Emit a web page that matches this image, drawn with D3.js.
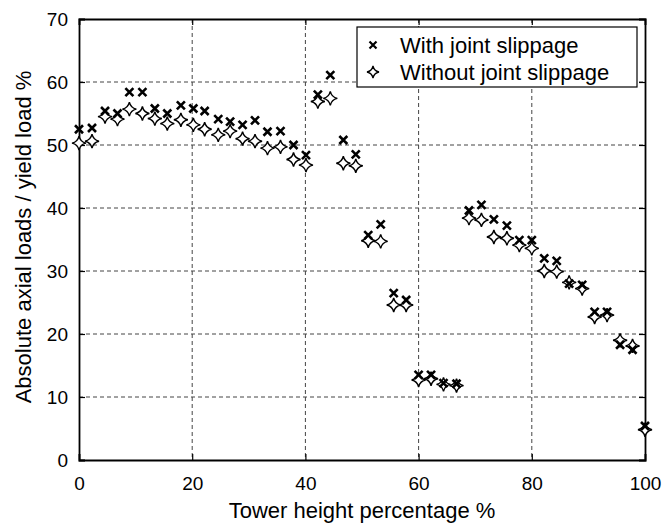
<!DOCTYPE html>
<html lang="en">
	<head>
		<meta charset="utf-8">
		<title>Axial loads vs tower height</title>
		<script type="text/javascript" src="https://d3js.org/d3.v7.min.js"></script>
		<style type="text/css">
			body { margin: 0; background: white; }
			svg { display: block; font-family: "Liberation Sans", Arial, sans-serif; }
		</style>
		<script>
			const width = 666;
			const height = 526;
			const margin = {top: 19, right: 21, bottom: 66, left: 79};

			// tower height % (x)
			const towerHeight = [0, 2.3, 4.6, 6.8, 8.9, 11.2, 13.4, 15.6, 18.0, 20.2, 22.2, 24.6, 26.7, 28.9, 31.1, 33.3,
				35.6, 37.9, 40.1, 42.2, 44.4, 46.7, 48.9, 51.1, 53.3, 55.6, 57.8, 60.0, 62.2, 64.4, 66.7,
				68.9, 71.1, 73.3, 75.6, 77.8, 80.0, 82.2, 84.4, 86.6, 88.9, 91.1, 93.3, 95.6, 97.8, 100];
			const withSlip = [52.5, 52.7, 55.4, 55.0, 58.4, 58.4, 55.8, 55.0, 56.3, 55.8, 55.4, 54.1, 53.7, 53.2, 53.9, 52.1,
				52.2, 50.0, 48.4, 58.0, 61.1, 50.8, 48.5, 35.7, 37.4, 26.5, 25.4, 13.5, 13.5, 12.2, 12.1,
				39.6, 40.5, 38.2, 37.2, 34.9, 34.9, 32.0, 31.6, 28.0, 27.8, 23.5, 23.5, 18.3, 17.5, 5.4];
			const withoutSlip = [50.3, 50.6, 54.5, 54.1, 55.7, 55.0, 54.2, 53.4, 54.0, 53.2, 52.5, 51.6, 52.2, 51.0, 50.6, 49.5,
				49.7, 47.7, 46.8, 56.9, 57.4, 47.1, 46.7, 34.8, 34.7, 24.6, 24.6, 12.7, 12.9, 12.0, 11.8,
				38.4, 38.1, 35.4, 35.2, 34.1, 33.6, 30.0, 29.9, 28.2, 27.2, 22.7, 23.0, 19.0, 18.1, 4.8];
			const xTicks = [0, 20, 40, 60, 80, 100];
			const yTicks = [0, 10, 20, 30, 40, 50, 60, 70];
			const legendLabels = ["With joint slippage", "Without joint slippage"];

			// 4-point star with concave sides
			const starPath = (r) => {
				const k = r * 0.18;
				return "M0," + (-r) + "Q" + k + "," + (-k) + " " + r + ",0" +
					"Q" + k + "," + k + " 0," + r +
					"Q" + (-k) + "," + k + " " + (-r) + ",0" +
					"Q" + (-k) + "," + (-k) + " 0," + (-r) + "Z";
			};
			const crossPath = (s) => "M" + (-s) + "," + (-s) + "L" + s + "," + s + "M" + (-s) + "," + s + "L" + s + "," + (-s);

			const init = () => {
				const svg = d3.select("#chart")
					.attr("width", width)
					.attr("height", height);

				const w = width - margin.left - margin.right;
				const h = height - margin.top - margin.bottom;

				const x = d3.scaleLinear().domain([0, 100]).range([0, w]);
				const y = d3.scaleLinear().domain([0, 70]).range([h, 0]);

				const g = svg.append("g")
					.attr("transform", "translate(" + margin.left + "," + margin.top + ")");

				// grid
				g.append("g").selectAll("line")
					.data(xTicks.slice(1, -1)).enter()
					.append("line")
					.attr("x1", d => x(d)).attr("x2", d => x(d))
					.attr("y1", 0).attr("y2", h)
					.attr("stroke", "#444").attr("stroke-dasharray", "4,3");
				g.append("g").selectAll("line")
					.data(yTicks.slice(1, -1)).enter()
					.append("line")
					.attr("y1", d => y(d)).attr("y2", d => y(d))
					.attr("x1", 0).attr("x2", w)
					.attr("stroke", "#444").attr("stroke-dasharray", "4,3");

				// axes with inward ticks
				g.append("g")
					.attr("transform", "translate(0," + h + ")")
					.call(d3.axisBottom(x).tickValues(xTicks).tickSize(-6).tickPadding(17));
				g.append("g")
					.call(d3.axisLeft(y).tickValues(yTicks).tickSize(-6).tickPadding(11));
				g.append("g").call(d3.axisTop(x).tickValues(xTicks).tickSize(-6).tickFormat(""));
				g.append("g").attr("transform", "translate(" + w + ",0)")
					.call(d3.axisRight(y).tickValues(yTicks).tickSize(-6).tickFormat(""));
				g.selectAll(".domain").attr("stroke", "#000").attr("stroke-width", 1.8);
				g.selectAll(".tick line").attr("stroke", "#000").attr("stroke-width", 1.2);
				g.selectAll(".tick text").attr("font-size", 19).attr("fill", "#000")
					.attr("font-family", "Liberation Sans, Arial, sans-serif");

				// data
				const pts = towerHeight.map((t, i) => ({t: t, a: withSlip[i], b: withoutSlip[i]}));
				g.append("g").selectAll("path")
					.data(pts).enter()
					.append("path")
					.attr("d", starPath(7))
					.attr("transform", d => "translate(" + x(d.t) + "," + y(d.b) + ")")
					.attr("fill", "white").attr("stroke", "#000").attr("stroke-width", 1.4);
				g.append("g").selectAll("path")
					.data(pts).enter()
					.append("path")
					.attr("d", crossPath(4))
					.attr("transform", d => "translate(" + x(d.t) + "," + y(d.a) + ")")
					.attr("fill", "none").attr("stroke", "#000").attr("stroke-width", 2.6);

				// legend
				const lg = svg.append("g").attr("transform", "translate(357,27)");
				lg.append("rect").attr("width", 280).attr("height", 60)
					.attr("fill", "white").attr("stroke", "#000").attr("stroke-width", 1.2);
				lg.append("path").attr("d", crossPath(3.5))
					.attr("transform", "translate(16,18)")
					.attr("stroke", "#000").attr("stroke-width", 2.2);
				lg.append("path").attr("d", starPath(6))
					.attr("transform", "translate(16,45)")
					.attr("fill", "white").attr("stroke", "#000").attr("stroke-width", 1.3);
				lg.selectAll("text")
					.data(legendLabels).enter()
					.append("text")
					.attr("x", 43)
					.attr("y", (d, i) => 18 + i * 27)
					.attr("dy", "0.35em")
					.attr("font-size", 22)
					.text(d => d);

				// axis labels
				svg.append("text")
					.attr("x", margin.left + w / 2)
					.attr("y", 518)
					.attr("text-anchor", "middle")
					.attr("font-size", 22)
					.text("Tower height percentage %");
				svg.append("text")
					.attr("transform", "translate(31,237) rotate(-90)")
					.attr("text-anchor", "middle")
					.attr("font-size", 22)
					.text("Absolute axial loads / yield load %");
			};
		</script>
	</head>
	<body>
		<svg id="chart"></svg>
		<script type="text/javascript">
			init();
		</script>
	</body>
</html>
